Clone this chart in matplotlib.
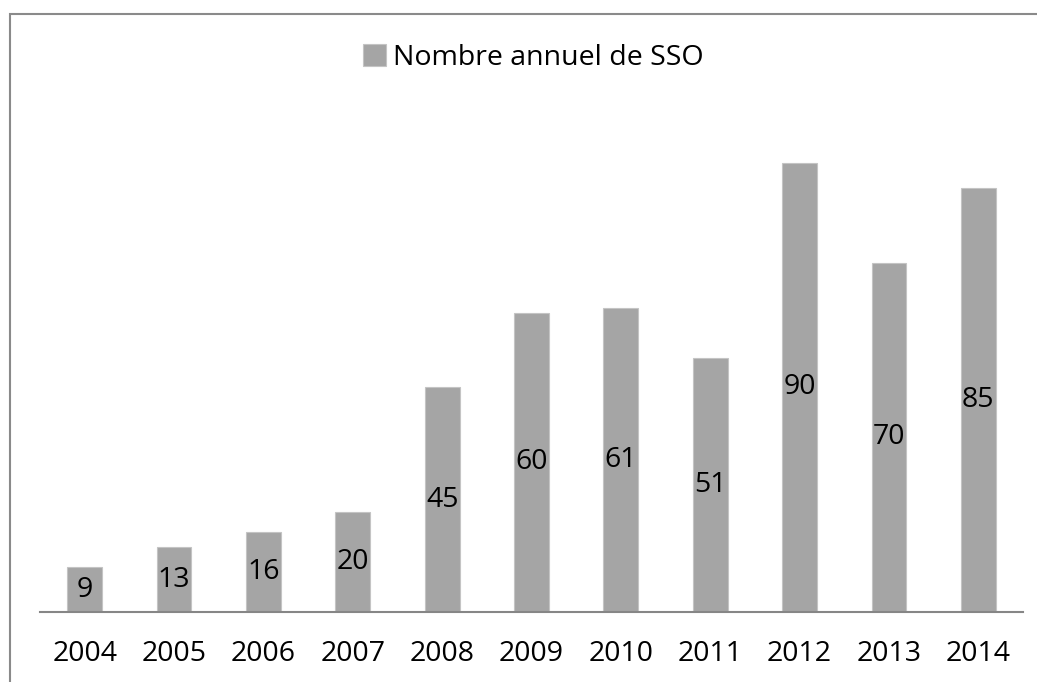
import matplotlib.pyplot as plt
from matplotlib.patches import Rectangle

# annual counts
years = ['2004', '2005', '2006', '2007', '2008', '2009', '2010', '2011', '2012', '2013', '2014']
counts = [9, 13, 16, 20, 45, 60, 61, 51, 90, 70, 85]
series_name = 'Nombre annuel de SSO'

plt.rcParams['font.family'] = ['Open Sans', 'DejaVu Sans']

fig = plt.figure(figsize=(10.37, 6.82), dpi=100)
ax = fig.add_axes([40 / 1037, 70 / 682, 983 / 1037, 499 / 682])

x = list(range(len(years)))
bars = ax.bar(x, counts, width=0.39, color='#a5a5a5', edgecolor='#c4c4c4',
              linewidth=0.8, label=series_name)

# value labels in the middle of each bar
for xi, v in zip(x, counts):
    ax.text(xi, v / 2, str(v), ha='center', va='center', fontsize=20.5, color='black')

ax.set_xlim(-0.5, len(years) - 0.5)
ax.set_ylim(0, 100)
ax.set_xticks(x)
ax.set_xticklabels(years, fontsize=20.5)
ax.tick_params(axis='x', length=0, pad=20)
ax.set_yticks([])
for s in ['top', 'right', 'left']:
    ax.spines[s].set_visible(False)
ax.spines['bottom'].set_color('#868686')
ax.spines['bottom'].set_linewidth(1.5)

leg = fig.legend(handles=[bars], labels=[series_name], loc='center',
                 bbox_to_anchor=(533 / 1037, 1 - 58 / 682), frameon=False,
                 fontsize=20.5, handlelength=0.8, handleheight=0.8,
                 handletextpad=0.25)

# chart border (only left and top edges are in view)
fig.patches.append(Rectangle((9.5 / 1037, -0.1), 1.2, (682 - 13.5) / 682 + 0.1,
                             transform=fig.transFigure, fill=False,
                             edgecolor='#8a8a8a', linewidth=1.5))

fig.savefig('out.png', dpi=100)
